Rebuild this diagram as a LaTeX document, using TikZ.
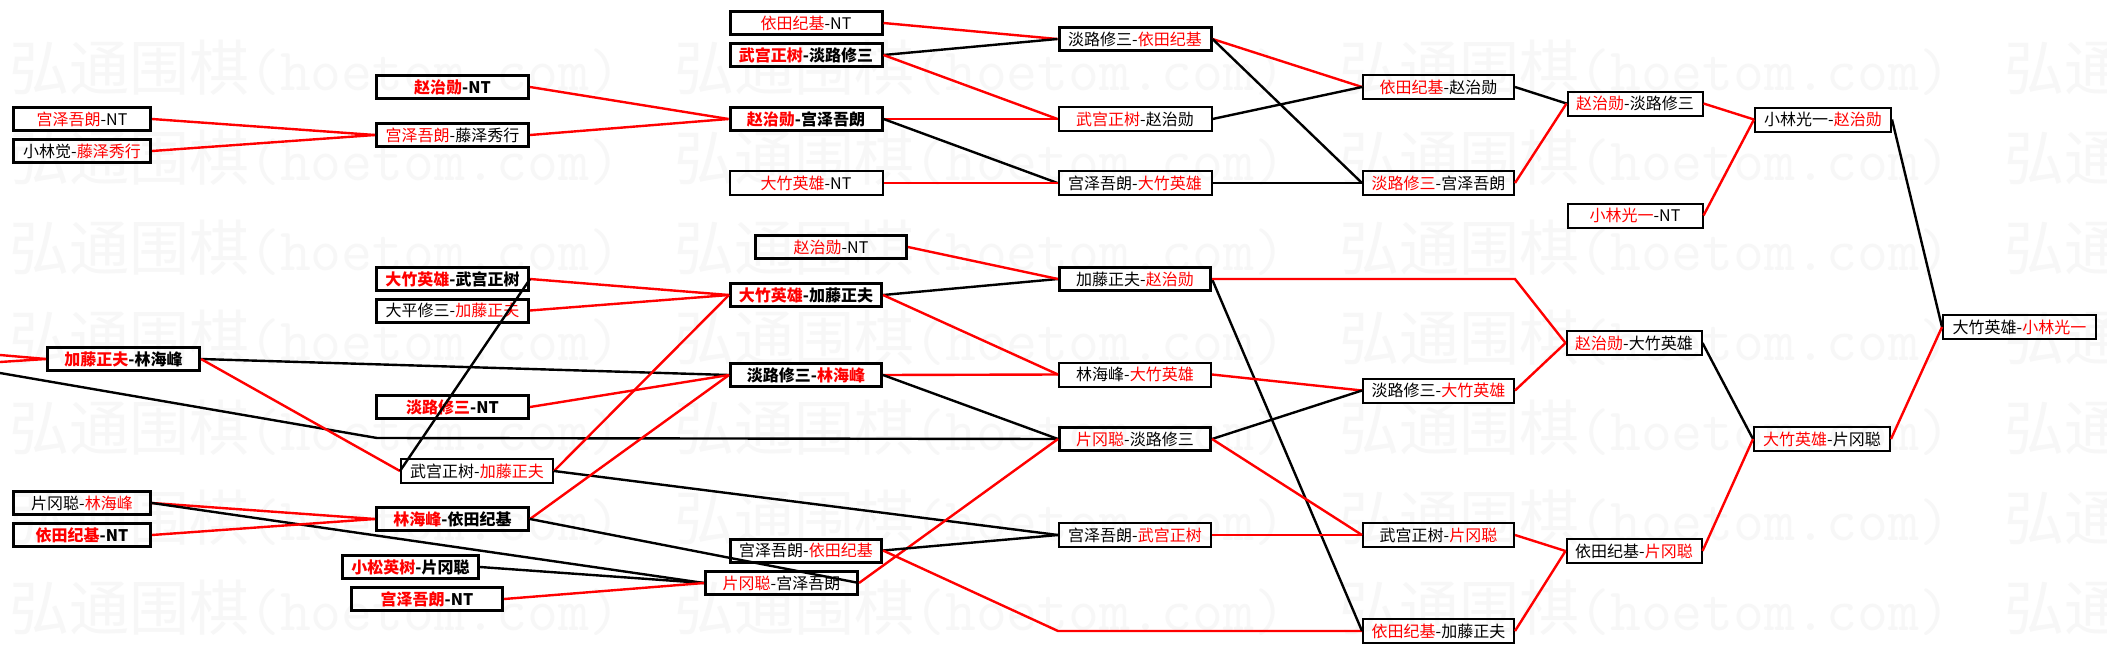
\documentclass[tikz,border=0pt]{standalone}
\usepackage{fontspec}
\setmainfont{Noto Sans CJK SC}
\newcommand{\redt}[1]{\textcolor{red}{#1}}
\begin{document}
\begin{tikzpicture}[x=1pt,y=-1pt,
  tk/.style={draw=black, line width=3pt, minimum width=#1, minimum height=23pt, inner sep=0pt, font=\fontsize{16}{16}\selectfont},
  tn/.style={draw=black, line width=2pt, minimum width=#1, minimum height=24pt, inner sep=0pt, font=\fontsize{16}{16}\selectfont},
  bf/.style={font=\fontsize{16}{16}\selectfont\bfseries},
  rl/.style={draw=red, line width=2.4pt},
  bl/.style={draw=black, line width=2.4pt},
  wm/.style={text=black!3, inner sep=0pt, anchor=west, font=\fontsize{60}{60}\selectfont}
]
\fill[white] (0,0) rectangle (2107,653);
\useasboundingbox (0,0) rectangle (2107,653);
\begin{scope}
\clip (0,0) rectangle (2107,653);
\foreach \j in {0,...,6}{
  \foreach \i in {0,...,3}{
    \node[wm] at ({9+665*\i},{68+90*\j}) {弘通围棋{\ttfamily(hoetom.com)}};
  }
}
\end{scope}

% ---------- top part ----------
\node[tk=137] (a1) at (82,119) {\redt{宫泽吾朗}-NT};
\node[tk=137] (a2) at (82,151) {小林觉-\redt{藤泽秀行}};
\node[tk=152,bf] (b1) at (452.5,87) {\redt{赵治勋}-NT};
\node[tk=152] (b2) at (452.5,135) {\redt{宫泽吾朗}-藤泽秀行};
\node[tk=152] (c1) at (806,23) {\redt{依田纪基}-NT};
\node[tk=152,bf] (c2) at (806,55) {\redt{武宫正树}-淡路修三};
\node[tk=152,bf] (c3) at (806,119) {\redt{赵治勋}-宫泽吾朗};
\node[tn=153] (c4) at (806,183) {\redt{大竹英雄}-NT};
\node[tk=152] (d1) at (1135,39) {淡路修三-\redt{依田纪基}};
\node[tn=153] (d2) at (1135,119) {\redt{武宫正树}-赵治勋};
\node[tn=153] (d3) at (1135,183) {宫泽吾朗-\redt{大竹英雄}};
\node[tn=151] (e1) at (1438.5,87) {\redt{依田纪基}-赵治勋};
\node[tn=151] (e2) at (1438.5,183) {\redt{淡路修三}-宫泽吾朗};
\node[tn=135] (f1) at (1635,103.5) {\redt{赵治勋}-淡路修三};
\node[tn=135] (f2) at (1635,215.5) {\redt{小林光一}-NT};
\node[tn=136] (g1) at (1823,119.5) {小林光一-\redt{赵治勋}};
\node[tn=153] (h1) at (2019.5,327) {大竹英雄-\redt{小林光一}};

% ---------- bottom part ----------
\node[tk=152,bf] (B1) at (123.5,359) {\redt{加藤正夫}-林海峰};
\node[tk=152,bf] (B2) at (452.5,279) {\redt{大竹英雄}-武宫正树};
\node[tk=152] (B3) at (452.5,310.5) {大平修三-\redt{加藤正夫}};
\node[tk=152,bf] (B4) at (452.5,407) {\redt{淡路修三}-NT};
\node[tn=152] (B5) at (477,471) {武宫正树-\redt{加藤正夫}};
\node[tk=137] (B6) at (82,503) {片冈聪-\redt{林海峰}};
\node[tk=137,bf] (B7) at (82,535) {\redt{依田纪基}-NT};
\node[tk=152,bf] (B8) at (452.5,519) {\redt{林海峰}-依田纪基};
\node[tk=136,bf] (B9) at (410.5,567) {\redt{小松英树}-片冈聪};
\node[tk=151,bf] (B10) at (427,599) {\redt{宫泽吾朗}-NT};
\node[tk=151] (C1) at (831,247) {\redt{赵治勋}-NT};
\node[tk=151,bf] (C2) at (806,295) {\redt{大竹英雄}-加藤正夫};
\node[tk=151,bf] (C3) at (806,375) {淡路修三-\redt{林海峰}};
\node[tk=151] (C4) at (806,550.5) {宫泽吾朗-\redt{依田纪基}};
\node[tk=152] (C5) at (781.5,583) {\redt{片冈聪}-宫泽吾朗};
\node[tk=151] (D1) at (1135,279) {加藤正夫-\redt{赵治勋}};
\node[tn=152] (D2) at (1135,374.5) {林海峰-\redt{大竹英雄}};
\node[tk=151] (D3) at (1135,439) {\redt{片冈聪}-淡路修三};
\node[tn=152] (D4) at (1135,535) {宫泽吾朗-\redt{武宫正树}};
\node[tn=151] (E1) at (1438.5,390.5) {淡路修三-\redt{大竹英雄}};
\node[tn=151] (E2) at (1438.5,535) {武宫正树-\redt{片冈聪}};
\node[tn=151] (E3) at (1438.5,631) {\redt{依田纪基}-加藤正夫};
\node[tn=135] (F1) at (1634,343) {\redt{赵治勋}-大竹英雄};
\node[tn=135] (F2) at (1634,551) {依田纪基-\redt{片冈聪}};
\node[tn=136] (G1) at (1822,439) {\redt{大竹英雄}-片冈聪};

\coordinate (L1) at (0,355);
\coordinate (L2) at (0,362);
\coordinate (L3) at (0,373);
\coordinate (K1) at (377,438);
\coordinate (K2) at (1058,631);
\coordinate (K3) at (1515,279);

% ---------- connectors, top ----------
\draw[rl] (a1.east) -- (b2.west);
\draw[rl] (a2.east) -- (b2.west);
\draw[rl] (b1.east) -- (c3.west);
\draw[rl] (b2.east) -- (c3.west);
\draw[rl] (c1.east) -- (d1.west);
\draw[bl] (c2.east) -- (d1.west);
\draw[rl] (c2.east) -- (d2.west);
\draw[rl] (c3.east) -- (d2.west);
\draw[bl] (c3.east) -- (d3.west);
\draw[rl] (c4.east) -- (d3.west);
\draw[rl] (d1.east) -- (e1.west);
\draw[bl] (d1.east) -- (e2.west);
\draw[bl] (d2.east) -- (e1.west);
\draw[bl] (d3.east) -- (e2.west);
\draw[bl] (e1.east) -- (f1.west);
\draw[rl] (e2.east) -- (f1.west);
\draw[rl] (f1.east) -- (g1.west);
\draw[rl] (f2.east) -- (g1.west);
\draw[bl] (g1.east) -- (h1.west);

% ---------- connectors, bottom ----------
\draw[rl] (L1) -- (B1.west);
\draw[rl] (L2) -- (B1.west);
\draw[bl] (L3) -- (K1) -- (D3.west);
\draw[bl] (B1.east) -- (C3.west);
\draw[rl] (B1.east) -- (B5.west);
\draw[rl] (B2.east) -- (C2.west);
\draw[rl] (B3.east) -- (C2.west);
\draw[bl] (B2.east) -- (B5.west);
\draw[rl] (B4.east) -- (C3.west);
\draw[rl] (B5.east) -- (C2.west);
\draw[bl] (B5.east) -- (D4.west);
\draw[rl] (B6.east) -- (B8.west);
\draw[bl] (B6.east) -- (C5.west);
\draw[rl] (B7.east) -- (B8.west);
\draw[rl] (B8.east) -- (C3.west);
\draw[bl] (B8.east) -- (C5.east);
\draw[bl] (B9.east) -- (C5.west);
\draw[rl] (B10.east) -- (C5.west);
\draw[bl] (C2.east) -- (D1.west);
\draw[rl] (C1.east) -- (D1.west);
\draw[rl] (C2.east) -- (D2.west);
\draw[rl] (C3.east) -- (D2.west);
\draw[bl] (C3.east) -- (D3.west);
\draw[rl] (C5.east) -- (D3.west);
\draw[bl] (C4.east) -- (D4.west);
\draw[rl] (C4.east) -- (K2) -- (E3.west);
\draw[bl] (D1.east) -- (E3.west);
\draw[rl] (D1.east) -- (K3) -- (F1.west);
\draw[rl] (D2.east) -- (E1.west);
\draw[bl] (D3.east) -- (E1.west);
\draw[rl] (D3.east) -- (E2.west);
\draw[rl] (D4.east) -- (E2.west);
\draw[rl] (E1.east) -- (F1.west);
\draw[rl] (E2.east) -- (F2.west);
\draw[rl] (E3.east) -- (F2.west);
\draw[bl] (F1.east) -- (G1.west);
\draw[rl] (F2.east) -- (G1.west);
\draw[rl] (G1.east) -- (h1.west);
\end{tikzpicture}
\end{document}
